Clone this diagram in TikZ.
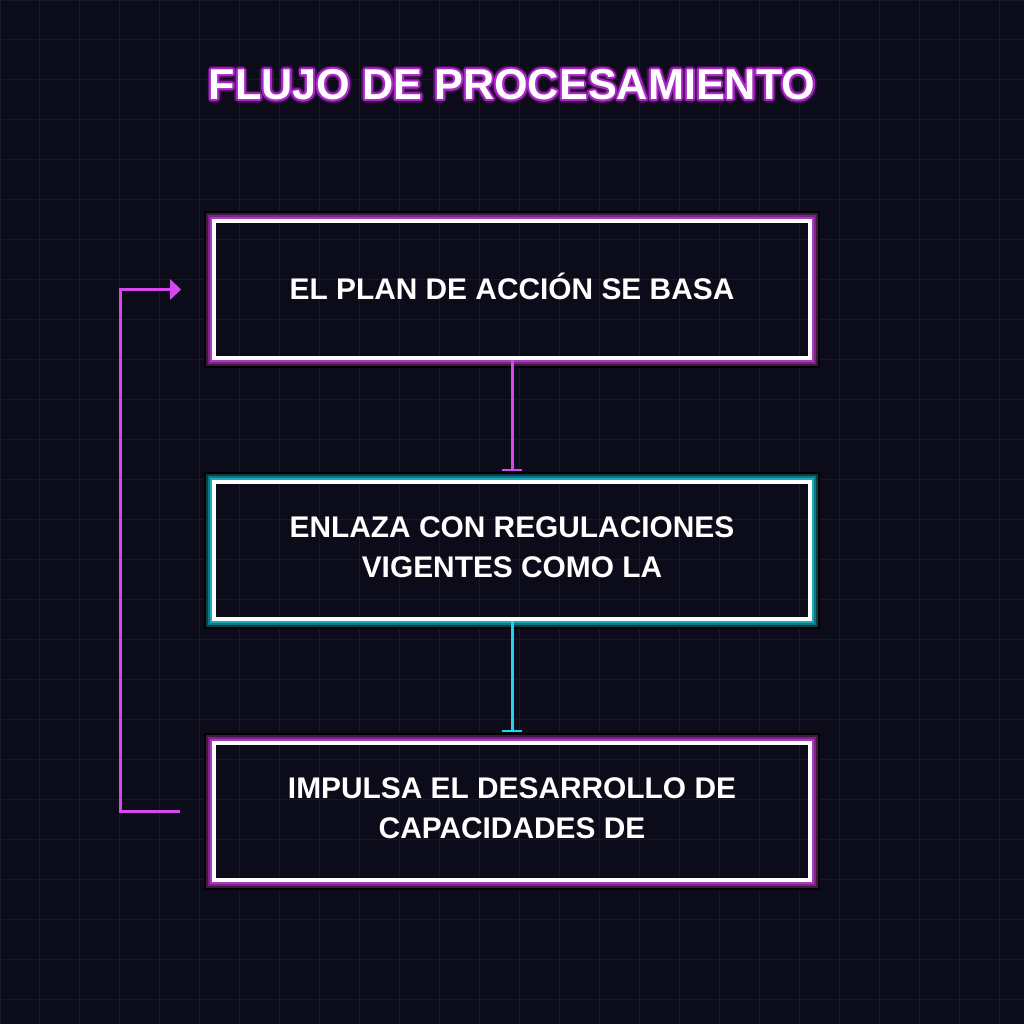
\documentclass[tikz,border=0pt]{standalone}
\usepackage{fontspec}
\setmainfont{Liberation Sans}
\usetikzlibrary{arrows.meta,positioning}

\definecolor{bgdark}{RGB}{11,11,25}
\definecolor{gridline}{RGB}{24,24,44}
\definecolor{neonmag}{RGB}{217,70,239}
\definecolor{neoncyan}{RGB}{34,211,238}
\definecolor{titleglow}{RGB}{170,40,200}
\definecolor{titleshade}{RGB}{70,15,85}

\begin{document}
\begin{tikzpicture}[
    x=0.02cm, y=0.02cm,
    node distance=2.4cm,
    stage/.style={rectangle, draw=white, line width=2.27pt,
                  minimum width=11.92cm, minimum height=2.74cm, align=center,
                  text depth=4pt, text=white,
                  font=\bfseries\fontsize{17}{22.7}\selectfont},
    heading/.style={font=\bfseries\fontsize{24.6}{28}\selectfont},
    link/.style={line width=1.7pt, -{Bar[width=11.9pt,line width=1.1pt]}, shorten >=5.1pt},
    loopback/.style={neonmag, line width=1.7pt, -{Triangle[length=6.2pt,width=11.3pt]}}
]
    % background and grid
    \useasboundingbox (0,0) rectangle (1024,-1024);
    \fill[bgdark] (0,0) rectangle (1024,-1024);
    \draw[gridline, line width=0.57pt, step=0.8cm] (0,0) grid (1024,-1024);

    % title with glow
    \foreach \a in {0,30,...,330}
        \node[heading, text=titleshade, shift={(\a:3.6)}] (tshade\a) at (512,-85) {FLUJO DE PROCESAMIENTO};
    \foreach \a in {0,30,...,330}
        \node[heading, text=titleglow, shift={(\a:2)}] (tglow\a) at (512,-85) {FLUJO DE PROCESAMIENTO};
    \node[heading, text=white] (title) at (512,-85) {FLUJO DE PROCESAMIENTO};

    % stages
    \node[stage] (plan) at (512,-289.5) {EL PLAN DE ACCIÓN SE BASA};
    \node[stage, below=of plan] (enlace) {ENLAZA CON REGULACIONES\\VIGENTES COMO LA};
    \node[stage, below=of enlace] (impulso) {IMPULSA EL DESARROLLO DE\\CAPACIDADES DE};

    % neon glow round the boxes
    \foreach \b/\g in {plan/neonmag, enlace/neoncyan, impulso/neonmag} {
        \foreach \d/\o in {7/0, 5/30, 3/55, 1/80}
            \draw[\g!\o!black, line width=1.2pt]
                ([shift={(-\d,\d)}]\b.north west) rectangle ([shift={(\d,-\d)}]\b.south east);
    }

    % connectors
    \draw[link, neonmag] (plan.south) -- (enlace.north);
    \draw[link, neoncyan] (enlace.south) -- (impulso.north);

    \coordinate (fbout) at ([xshift=-0.64cm]impulso.west);
    \coordinate (fbin) at ([xshift=-0.62cm]plan.west);
    \draw[loopback] (fbout) -- ++(-60,0) |- (fbin);
\end{tikzpicture}
\end{document}
